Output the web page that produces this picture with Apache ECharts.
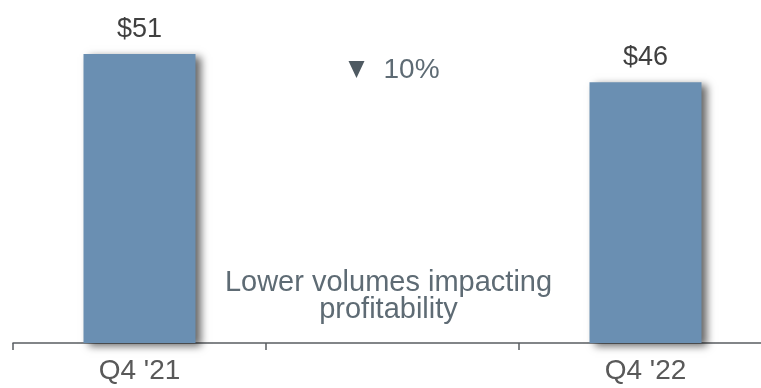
<!DOCTYPE html>
<html>
<head>
<meta charset="utf-8">
<script src="https://cdn.jsdelivr.net/npm/echarts@6/dist/echarts.min.js"></script>
<style>
  html, body { margin: 0; padding: 0; background: #fff; }
  #chart { width: 761px; height: 388px; }
</style>
</head>
<body>
<div id="chart"></div>
<script>
// Quarterly values (in $) shown as bars; the middle slot holds the commentary
const categories = ["Q4 '21", "", "Q4 '22"];
const values = [51, null, 46];
const valueLabels = ["$51", "", "$46"];
const changeText = "10%";
const noteLines = ["Lower volumes impacting", "profitability"];

const FONT = "'Liberation Sans', Arial, sans-serif";

const chart = echarts.init(document.getElementById('chart'));

chart.setOption({
  animation: false,
  grid: { left: 13, top: 3, bottom: 45, width: 759, outerBoundsMode: 'none', containLabel: false },
  xAxis: {
    type: 'category',
    data: categories,
    axisLine: { lineStyle: { color: '#595e62', width: 1.5 } },
    axisTick: { show: true, length: 7, lineStyle: { color: '#595e62', width: 1.5 } },
    axisLabel: { color: '#595959', fontSize: 28, fontFamily: FONT, margin: 14 }
  },
  yAxis: {
    type: 'value',
    min: 0,
    max: 60,
    show: false,
    splitLine: { show: false }
  },
  series: [{
    type: 'bar',
    data: values,
    barWidth: 112,
    itemStyle: {
      color: '#6a8fb2',
      shadowColor: 'rgba(0,0,0,0.6)',
      shadowBlur: 8,
      shadowOffsetX: 5,
      shadowOffsetY: 3
    },
    label: {
      show: true,
      position: 'top',
      distance: 11,
      color: '#404040',
      fontSize: 27,
      fontFamily: FONT,
      formatter: p => valueLabels[p.dataIndex]
    }
  }]
});

// Commentary anchored to the middle category
const midX = chart.convertToPixel({ xAxisIndex: 0 }, 1);
chart.setOption({
  graphic: [
    {
      type: 'polygon',
      shape: { points: [[midX - 44, 61], [midX - 28, 61], [midX - 36, 78]] },
      style: { fill: '#4f5a62' }
    },
    {
      type: 'text',
      x: midX - 9,
      y: 70,
      style: {
        text: changeText,
        align: 'left',
        verticalAlign: 'middle',
        fontSize: 28,
        fontFamily: FONT,
        fill: '#5e6b74'
      }
    },
    {
      type: 'text',
      x: midX - 4,
      y: 296,
      style: {
        text: noteLines.join('\n'),
        align: 'center',
        verticalAlign: 'middle',
        lineHeight: 27,
        fontSize: 29,
        fontFamily: FONT,
        fill: '#5e6b74'
      }
    }
  ]
});
</script>
</body>
</html>
